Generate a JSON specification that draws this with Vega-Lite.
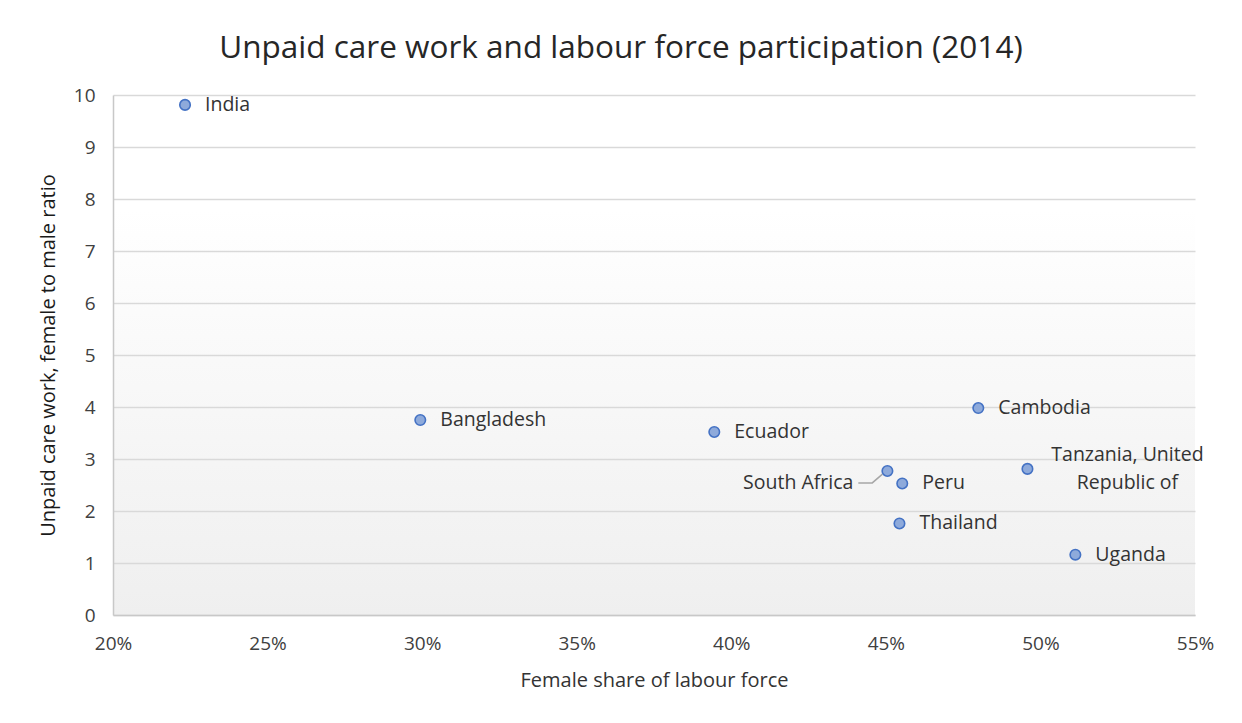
{
  "$schema": "https://vega.github.io/schema/vega-lite/v6.json",
  "width": 1082,
  "height": 520,
  "autosize": "none",
  "padding": {"left": 113, "top": 95, "right": 47, "bottom": 108},
  "background": "white",
  "title": {
    "text": "Unpaid care work and labour force participation (2014)",
    "font": "Open Sans",
    "fontSize": 31.5,
    "fontWeight": "normal",
    "color": "#262626",
    "anchor": "middle",
    "frame": "group",
    "dx": -33,
    "offset": 22
  },
  "datasets": {
    "countries": [
      {"country": "India", "label": "India", "share": 0.2233, "ratio": 9.81},
      {"country": "Bangladesh", "label": "Bangladesh", "share": 0.2994, "ratio": 3.75},
      {"country": "Ecuador", "label": "Ecuador", "share": 0.3945, "ratio": 3.52},
      {"country": "Cambodia", "label": "Cambodia", "share": 0.4799, "ratio": 3.98},
      {"country": "South Africa", "label": "South Africa", "share": 0.4505, "ratio": 2.77},
      {"country": "Peru", "label": "Peru", "share": 0.4553, "ratio": 2.53},
      {"country": "Tanzania", "label": "Tanzania, United\nRepublic of", "share": 0.4958, "ratio": 2.81},
      {"country": "Thailand", "label": "Thailand", "share": 0.4544, "ratio": 1.76},
      {"country": "Uganda", "label": "Uganda", "share": 0.5113, "ratio": 1.16}
    ],
    "leader": [
      {"share": 0.4411, "ratio": 2.54},
      {"share": 0.4456, "ratio": 2.54},
      {"share": 0.4489, "ratio": 2.71}
    ]
  },
  "data": {"name": "countries"},
  "encoding": {
    "x": {
      "field": "share",
      "type": "quantitative",
      "scale": {"domain": [0.2, 0.55], "nice": false, "zero": false},
      "axis": {
        "title": "Female share of labour force",
        "format": ".0%",
        "values": [0.2, 0.25, 0.3, 0.35, 0.4, 0.45, 0.5, 0.55],
        "grid": false,
        "ticks": false,
        "labelFlush": false,
        "domainColor": "#c8c8c8",
        "domainWidth": 1.5,
        "labelFont": "Open Sans",
        "labelFontSize": 19,
        "labelColor": "#404040",
        "labelPadding": 19,
        "titleFont": "Open Sans",
        "titleFontSize": 20,
        "titleFontWeight": "normal",
        "titleColor": "#333333",
        "titlePadding": 17
      }
    },
    "y": {
      "field": "ratio",
      "type": "quantitative",
      "scale": {"domain": [0, 10], "nice": false},
      "axis": {
        "title": "Unpaid care work, female to male ratio",
        "values": [0, 1, 2, 3, 4, 5, 6, 7, 8, 9, 10],
        "grid": true,
        "gridColor": "#d9d9d9",
        "gridWidth": 1.5,
        "ticks": false,
        "domainColor": "#c8c8c8",
        "domainWidth": 1.5,
        "labelFont": "Open Sans",
        "labelFontSize": 19,
        "labelColor": "#404040",
        "labelPadding": 18,
        "titleFont": "Open Sans",
        "titleFontSize": 20,
        "titleFontWeight": "normal",
        "titleColor": "#1a1a1a",
        "titlePadding": 15
      }
    }
  },
  "layer": [
    {
      "data": {"name": "leader"},
      "mark": {"type": "line", "color": "#a6a6a6", "strokeWidth": 1.5},
      "encoding": {}
    },
    {
      "mark": {"type": "point", "filled": true, "fill": "#8eaadb", "stroke": "#4472c4", "strokeWidth": 1.6, "size": 110, "opacity": 1}
    },
    {
      "transform": [{"filter": "datum.country !== 'South Africa' && datum.country !== 'Tanzania'"}],
      "mark": {"type": "text", "align": "left", "baseline": "middle", "dx": 20, "font": "Open Sans", "fontSize": 19.5, "color": "#333333"},
      "encoding": {"text": {"field": "label"}}
    },
    {
      "transform": [{"filter": "datum.country === 'South Africa'"}],
      "mark": {"type": "text", "align": "right", "baseline": "middle", "dx": -34, "dy": 12, "font": "Open Sans", "fontSize": 19.5, "color": "#333333"},
      "encoding": {"text": {"field": "label"}}
    },
    {
      "transform": [{"filter": "datum.country === 'Tanzania'"}],
      "mark": {"type": "text", "align": "center", "baseline": "middle", "dx": 100, "dy": -14, "lineBreak": "\n", "lineHeight": 28, "font": "Open Sans", "fontSize": 19.5, "color": "#333333"},
      "encoding": {"text": {"field": "label"}}
    }
  ],
  "config": {
    "view": {
      "stroke": null,
      "fill": {
        "gradient": "linear",
        "x1": 0, "y1": 0, "x2": 0, "y2": 1,
        "stops": [
          {"offset": 0, "color": "#ffffff"},
          {"offset": 0.22, "color": "#ffffff"},
          {"offset": 1, "color": "#efefef"}
        ]
      }
    }
  }
}
